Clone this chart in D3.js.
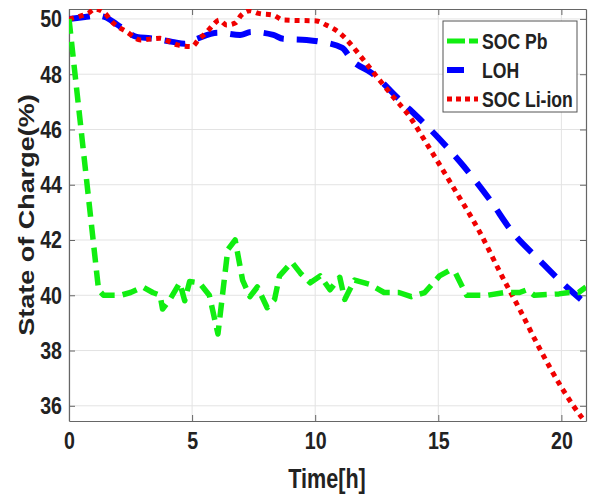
<!DOCTYPE html>
<html lang="en">
<head>
<meta charset="UTF-8">
<title>State of Charge</title>
<script src="https://d3js.org/d3.v7.min.js"></script>
<style>
  body{margin:0;background:#fff;}
  svg{display:block;}
  text{font-family:"Liberation Sans",Arial,sans-serif;font-weight:bold;fill:#222;}
</style>
</head>
<body>
<svg width="592" height="495"></svg>
<script>
// data
const pbTime = [0,1.2,1.4,2.1,2.5,3.0,3.4,3.7,3.8,4.1,4.5,4.7,4.9,5.3,5.7,6.05,6.45,6.75,7.05,7.35,7.65,8.05,8.35,8.55,9.05,9.4,9.8,10.2,10.6,11.0,11.2,11.6,12.2,12.8,13.4,13.9,14.45,15.05,15.45,15.7,16.15,17.0,17.7,18.3,18.6,18.9,19.9,20.3,20.7,21.0]
const socPb = [50,40.2,40.0,40.0,40.1,40.3,40.1,40.0,39.5,39.85,40.45,39.8,40.5,40.45,40.0,38.6,41.65,42.0,40.55,39.95,40.3,39.55,39.85,40.7,41.2,40.8,40.45,40.7,40.2,40.65,39.85,40.55,40.4,40.1,40.1,39.95,40.1,40.7,40.9,40.8,40.0,40.0,40.1,40.1,40.2,40.0,40.05,40.1,40.1,40.3]

const lohTime = [0,0.65,1.1,1.45,1.95,2.75,3.3,4.2,4.7,5.2,6.05,6.95,7.4,8.3,8.7,9.65,10.25,11.1,11.5,12.3,13.4,15.0,16.05,17.1,18.0,19.1,20.25,21.0]
const loh = [50,50.07,50.12,50.07,49.8,49.35,49.3,49.17,49.1,49.28,49.5,49.42,49.53,49.42,49.28,49.24,49.17,48.95,48.5,48.04,47.1,45.7,44.65,43.45,42.3,41.28,40.27,39.7]

const liTime = [0,0.45,0.8,1.05,1.4,1.8,2.35,2.9,3.7,4.1,4.4,5.0,5.25,5.6,5.85,6.1,6.4,6.75,7.0,7.35,7.7,8.3,8.7,10.05,10.45,11.0,11.4,11.8,12.35,13.15,13.85,14.45,15.6,16.7,17.6,18.3,19.1,20.05,20.85,21.0]
const socLi = [50,50.1,50.22,50.36,50.25,49.85,49.53,49.24,49.3,49.17,49.06,49.0,49.24,49.53,49.78,49.96,49.78,49.85,50.14,50.3,50.2,50.14,49.96,49.93,49.78,49.49,49.13,48.7,48.08,47.2,46.45,45.6,43.92,42.26,40.67,39.5,38.1,36.6,35.56,35.4]

const xTicks = [0,5,10,15,20]
const yTicks = [36,38,40,42,44,46,48,50]
const seriesNames = ["SOC Pb","LOH","SOC Li-ion"]

const svg = d3.select("svg")
const margin = {top:9,right:6,bottom:74,left:69}
const W = 592, H = 495
const x = d3.scaleLinear().domain([0,21]).range([margin.left, W-margin.right])
const y = d3.scaleLinear().domain([35.45,50.36]).range([H-margin.bottom, margin.top])

// the figure looks squeezed sideways, so text is narrowed
const K = 0.8
function narrow(sel){
  sel.each(function(){
    const t = d3.select(this)
    const xv = +t.attr("x") || 0
    t.attr("x", xv/K).attr("transform", `scale(${K},1)`)
  })
}

// grid
const grid = svg.append("g")
grid.selectAll(".gx").data(xTicks).enter().append("line")
    .attr("x1",d=>x(d)).attr("x2",d=>x(d))
    .attr("y1",y.range()[0]).attr("y2",y.range()[1])
    .attr("stroke","#e3e3e3").attr("stroke-width",1)
grid.selectAll(".gy").data(yTicks).enter().append("line")
    .attr("y1",d=>y(d)).attr("y2",d=>y(d))
    .attr("x1",x.range()[0]).attr("x2",x.range()[1])
    .attr("stroke","#e3e3e3").attr("stroke-width",1)

// axes, ticks inside like matlab
const tk = 6
svg.append("g").attr("transform",`translate(0,${y.range()[0]})`)
    .call(d3.axisBottom(x).tickValues(xTicks).tickSizeInner(-tk).tickSizeOuter(0).tickPadding(11))
svg.append("g").attr("transform",`translate(0,${y.range()[1]})`)
    .call(d3.axisTop(x).tickValues(xTicks).tickSizeInner(-tk).tickSizeOuter(0).tickFormat(""))
svg.append("g").attr("transform",`translate(${x.range()[0]},0)`)
    .call(d3.axisLeft(y).tickValues(yTicks).tickSizeInner(-tk).tickSizeOuter(0).tickPadding(7))
svg.append("g").attr("transform",`translate(${x.range()[1]},0)`)
    .call(d3.axisRight(y).tickValues(yTicks).tickSizeInner(-tk).tickSizeOuter(0).tickFormat(""))
svg.selectAll(".domain").attr("stroke","#666").attr("stroke-width",1.2)
svg.selectAll(".tick line").attr("stroke","#666")
svg.selectAll(".tick text").attr("font-size",24.5).attr("fill","#222")
    .attr("font-family",'"Liberation Sans",Arial,sans-serif').attr("font-weight","bold")
    .call(narrow)

// clip
svg.append("clipPath").attr("id","plot").append("rect")
    .attr("x",x.range()[0]).attr("y",y.range()[1])
    .attr("width",x.range()[1]-x.range()[0]).attr("height",y.range()[0]-y.range()[1])

const plot = svg.append("g").attr("clip-path","url(#plot)")
const lineLin = d3.line().x(d=>x(d[0])).y(d=>y(d[1]))
const lineSmooth = d3.line().x(d=>x(d[0])).y(d=>y(d[1])).curve(d3.curveMonotoneX)

plot.append("path").datum(lohTime.map((t,i)=>[t,loh[i]]))
    .attr("d",lineSmooth).attr("fill","none").attr("stroke","#0000ff")
    .attr("stroke-width",6).attr("stroke-dasharray","21,13")
plot.append("path").datum(liTime.map((t,i)=>[t,socLi[i]]))
    .attr("d",lineSmooth).attr("fill","none").attr("stroke","#f00000")
    .attr("stroke-width",5).attr("stroke-dasharray","5,5")
plot.append("path").datum(pbTime.map((t,i)=>[t,socPb[i]]))
    .attr("d",lineLin).attr("fill","none").attr("stroke","#11ee11")
    .attr("stroke-width",5.5).attr("stroke-dasharray","15,8").attr("stroke-linejoin","round")

// axis titles
svg.append("text").attr("x",327).attr("y",488).attr("text-anchor","middle")
    .attr("font-size",27).text("Time[h]").call(narrow)
svg.append("text").attr("transform",`translate(34,215) rotate(-90) scale(1,${K})`)
    .attr("text-anchor","middle").attr("font-size",27).text("State of Charge(%)")

// legend
const lg = svg.append("g").attr("transform","translate(443,21)")
lg.append("rect").attr("width",134).attr("height",91).attr("fill","#fff").attr("stroke","#555").attr("stroke-width",1)
const styles = [
  {c:"#11ee11",w:5,d:"18,4"},
  {c:"#0000ff",w:6,d:"17,20"},
  {c:"#f00000",w:5,d:"5,4"}
]
seriesNames.forEach((n,i)=>{
  const yy = 20 + i*29
  lg.append("line").attr("x1",4).attr("x2",35).attr("y1",yy).attr("y2",yy)
    .attr("stroke",styles[i].c).attr("stroke-width",styles[i].w).attr("stroke-dasharray",styles[i].d)
  lg.append("text").attr("x",39).attr("y",yy+8).attr("font-size",22).text(n).call(narrow)
})
</script>
</body>
</html>
